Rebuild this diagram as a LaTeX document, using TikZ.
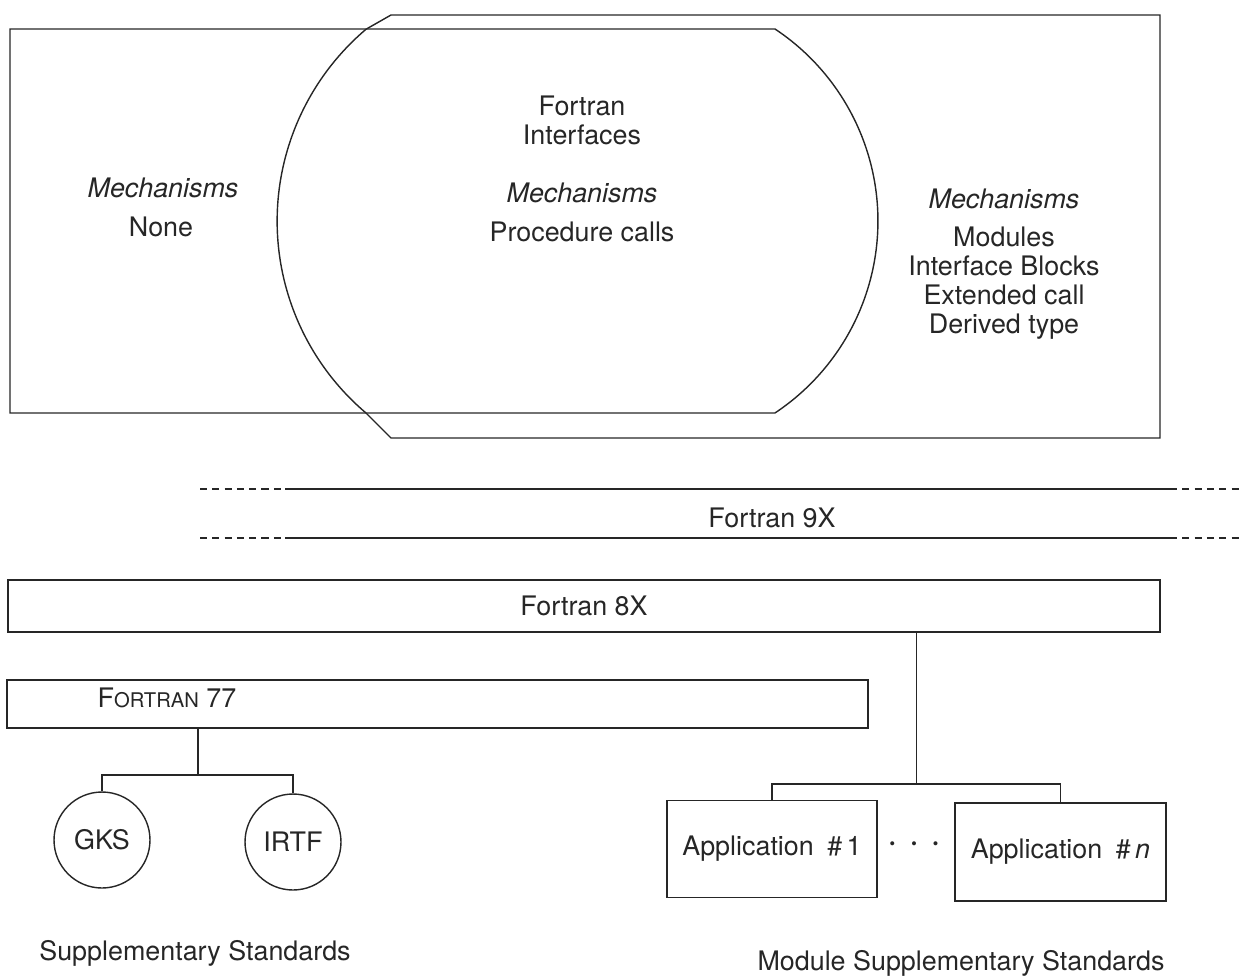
\documentclass[tikz,border=0pt]{standalone}
\usepackage{fontspec}
\setmainfont{TeX Gyre Heros}
\usepackage{tikz}

\begin{document}
\begin{tikzpicture}[
    x = 0.02cm, y = -0.02cm,
    line width = 0.8pt,
    color = black!85,
    every node/.style = {font = \fontsize{15.3}{16.4}\selectfont},
    box/.style = {draw, rectangle, inner sep = 0pt},
    std/.style = {draw, circle, inner sep = 0pt, minimum size = 1.92cm},
  ]
  \useasboundingbox (0, 0) rectangle (1243, 977);

  % Fortran 77 area and the interface lens
  \draw (10, 29) -- (775, 29)
    arc [start angle = -56.4, end angle = 56.4, radius = 230.5]
    -- (10, 413) -- cycle;
  \draw (391, 15) -- (1160, 15) -- (1160, 438) -- (391, 438) -- (366, 413)
    arc [start angle = 130.3, end angle = 229.7, radius = 251.6] -- cycle;

  \node (lmech) at (163, 188) {\itshape Mechanisms};
  \node (lnone) at (161, 227) {None};
  \node [align = center] (ftitle) at (582, 120) {Fortran\\Interfaces};
  \node (cmech) at (582, 193) {\itshape Mechanisms};
  \node (cproc) at (582, 232) {Procedure calls};
  \node (rmech) at (1004, 199) {\itshape Mechanisms};
  \node [align = center] (rlist) at (1004, 283)
    {Modules\\Interface Blocks\\Extended call\\Derived type};

  % Fortran 9X band
  \draw [dash pattern = on 4pt off 3pt] (200, 489) -- (285, 489);
  \draw (285, 489) -- (1170, 489);
  \draw [dash pattern = on 4pt off 3pt] (1170, 489) -- (1243, 489);
  \draw [dash pattern = on 4pt off 3pt] (200, 538) -- (285, 538);
  \draw (285, 538) -- (1170, 538);
  \draw [dash pattern = on 4pt off 3pt] (1170, 538) -- (1243, 538);
  \node (f9x) at (772, 518) {Fortran 9X};

  \node [box, minimum width = 23.04cm, minimum height = 1.04cm] (f8x)
    at (584, 606) {Fortran 8X};
  \node [box, minimum width = 17.22cm, minimum height = 0.96cm] (f77)
    at (437.5, 704) {};
  \node (f77txt) at (167, 698) {F{\fontsize{11.5}{12}\selectfont ORTRAN} 77};

  % supplementary standards
  \node [std] (gks) at (102, 840) {GKS};
  \node [std] (irtf) at (293, 842) {IRTF};
  \coordinate (fork77) at (198, 775);
  \draw (f77.south -| fork77) -- (fork77);
  \draw (gks.north) |- (fork77) -| (irtf.north);

  % module supplementary standards
  \node [box, minimum width = 4.2cm, minimum height = 1.94cm] (app1)
    at (772, 849) {Application\enspace\#\,1};
  \node [box, minimum width = 4.22cm, minimum height = 1.96cm] (appn)
    at (1060.5, 852) {Application\enspace\#\,\textit{n}};
  \node (dots) at (914, 846)
    {\textbf{\textperiodcentered\hspace{8pt}\textperiodcentered\hspace{8pt}\textperiodcentered}};
  \coordinate (fork8x) at (916.5, 784);
  \draw (f8x.south -| fork8x) -- (fork8x);
  \draw (app1.north) |- (fork8x) -| (appn.north);

  \node (supp) at (195, 953) {Supplementary Standards};
  \node (modsupp) at (961, 963) {Module Supplementary Standards};
\end{tikzpicture}
\end{document}
